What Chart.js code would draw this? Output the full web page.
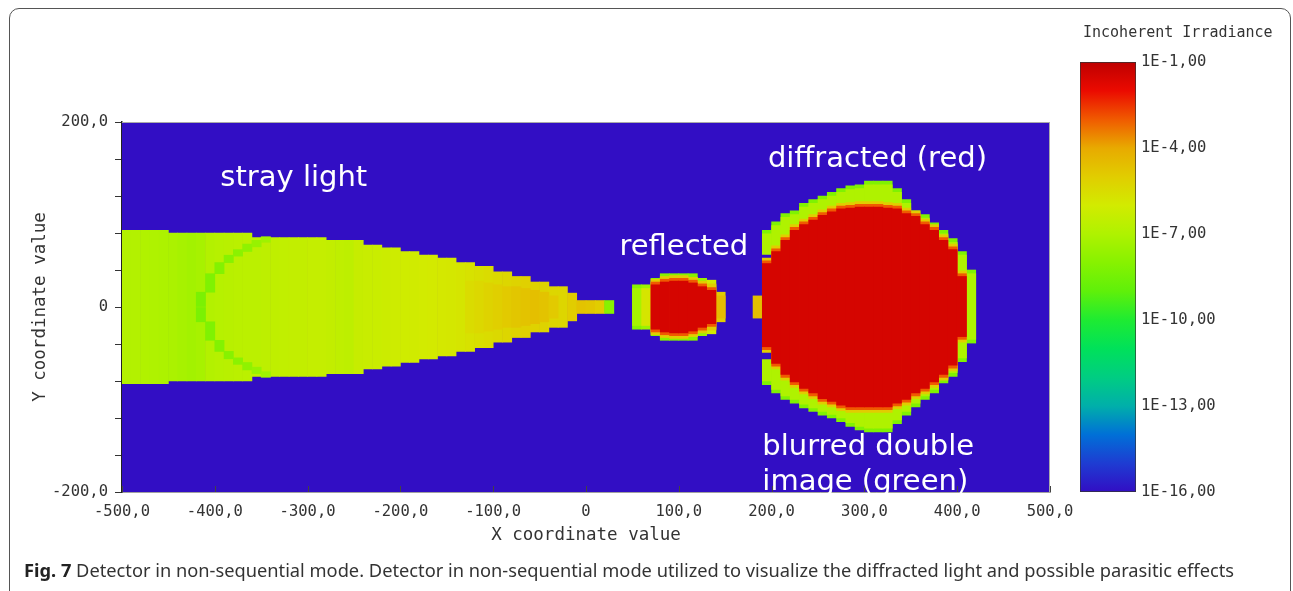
<!DOCTYPE html>
<html>
<head>
<meta charset="utf-8">
<script src="https://cdn.jsdelivr.net/npm/chart.js@4.4.1/dist/chart.umd.min.js"></script>
<style>
  html, body { margin: 0; padding: 0; background: #fff; }
  body { width: 1293px; height: 591px; position: relative; overflow: hidden; }
  #frame { position: absolute; left: 9px; top: 8px; width: 1280px; height: 640px;
           border: 1.5px solid #555; border-radius: 10px; }
  #main { position: absolute; left: 0; top: 0; }
  #bar { position: absolute; left: 1070px; top: 0; }
  #caption { position: absolute; left: 24px; top: 557px; font-family: "Noto Sans", "Open Sans", sans-serif;
             font-size: 18.25px; color: #333; white-space: nowrap; }
  #caption b { color: #222; }
</style>
</head>
<body>
<div id="frame"></div>
<canvas id="main" width="1293" height="591"></canvas>
<canvas id="bar" width="223" height="591"></canvas>
<div id="caption"><b>Fig. 7</b> Detector in non-sequential mode. Detector in non-sequential mode utilized to visualize the diffracted light and possible parasitic effects</div>
<script>
// --- stray light cone (columns of 10 units, half height in y units, log10 irradiance)
const strayX = [-495,-485,-475,-465,-455,-445,-435,-425,-415,-405,-395,-385,-375,-365,-355,-345,-335,-325,
  -315,-305,-295,-285,-275,-265,-255,-245,-235,-225,-215,-205,-195,-185,-175,-165,-155,-145,-135,-125,
  -115,-105,-95,-85,-75,-65,-55,-45,-35,-25,-15,-5,5,15,25];
const strayHalf = [83,83,83,83,83, 80,80,80,80,80,80,80,80,80, 75,75,75,75,75,75,75,75, 72,72,72,72,
  67,67,64,64,60,60,56,56,53,53,48,48,44,44,38,38,33,33,27,27,22,22,15,7,7,7,7];
const strayLog = [-6.9,-6.9,-6.95,-7.0,-7.05,-7.1,-7.2,-7.3,-7.2,-6.9,-6.8,-6.75,-6.7,-6.65,-6.65,-6.6,
  -6.55,-6.5,-6.45,-6.45,-6.4,-6.4,-6.45,-6.55,-6.6,-6.35,-6.3,-6.25,-6.2,-6.15,-6.1,-6.05,-6.0,-5.95,
  -5.9,-5.85,-5.8,-5.7,-5.6,-5.5,-5.4,-5.3,-5.2,-5.1,-5.15,-5.2,-5.3,-5.3,-5.0,-4.7,-4.8,-5.0,-8.0];

// warmer core of the cone towards the tip
const coreX = [-125,-115,-105,-95,-85,-75,-65,-55,-45,-35];
const coreHalf = [28,28,26,24,22,22,20,18,16,12];
const coreLog = [-5.5,-5.35,-5.2,-5.05,-4.9,-4.8,-4.7,-4.6,-4.7,-4.9];

// green ring inside the cone
const arcX = [-415,-405,-395,-385,-375,-365,-355,-345];
const arcIn = [0,16,36,48,55,60,65,70];
const arcOut = [16,36,48,56,62,68,72,76];
const arcLog = [-8.3,-8.2,-8.1,-8.0,-7.9,-7.8,-7.6,-7.4];

// reflected spot
const reflX = [55,65,75,85,95,105,115,125,135,145];
const reflHalf = [24,24,31,36,36,36,36,31,29,16];
const reflRedHalf = [null,null,24,27,28,28,26,22,18,null];
const reflEdgeLog = [-8.0,-7.5,-8.0,-8.0,-8.0,-8.0,-8.0,-7.5,-6.0,-5.0];
const reflLog = [-7.2,-5.8,-6.5,-6.8,-6.8,-6.8,-6.6,-6.0,-5.0,-4.5];

// blurred double image strip
const ghostX = [185];
const ghostHalf = [12];
const ghostLog = [-4.6];

// diffracted spot
const spotX = [195,205,215,225,235,245,255,265,275,285,295,305,315,325,335,345,355,365,375,385,395,405,415];
const spotTop = [83,92,101,104,112,116,120,124,128,131,132,136,136,136,128,116,104,100,91,83,74,60,40];
const spotBot = [-84,-93,-100,-104,-109,-113,-117,-120,-124,-129,-133,-135,-135,-135,-126,-117,-108,-100,-93,-82,-75,-59,-39];
const spotRedTop = [47,60,72,83,89,94,99,103,106,107,108,108,108,107,106,101,98,89,83,72,62,33,null];
const spotRedBot = [-43,-61,-73,-81,-88,-93,-99,-102,-106,-108,-108,-108,-108,-108,-104,-100,-93,-88,-81,-73,-63,-32,null];
const spotGapHalf = [56,null,null,null,null,null,null,null,null,null,null,null,null,null,null,null,null,null,null,null,null,null,null];

// axes and colour bar
const xTicks = [-500,-400,-300,-200,-100,0,100,200,300,400,500];
const yLabelled = [-200,0,200];
const barTicks = [-16,-13,-10,-7,-4,-1];

// colour map: log10 irradiance -> rgb
const cmapStops = [
  [-16, [50,14,196]], [-15, [30,60,210]], [-14, [0,112,215]], [-13, [0,175,170]],
  [-12, [0,205,130]], [-11, [0,225,90]], [-10, [30,235,50]], [-9, [95,240,10]],
  [-8, [135,242,0]], [-7, [175,242,0]], [-6, [210,235,0]], [-5, [225,205,0]],
  [-4, [232,170,0]], [-3, [240,90,0]], [-2, [235,10,0]], [-1, [190,0,0]]
];
function cmap(v) {
  if (v <= cmapStops[0][0]) return 'rgb(' + cmapStops[0][1].join(',') + ')';
  for (let i = 1; i < cmapStops.length; i++) {
    const [v1, c1] = cmapStops[i];
    const [v0, c0] = cmapStops[i - 1];
    if (v <= v1) {
      const t = (v - v0) / (v1 - v0);
      const c = c0.map((a, k) => Math.round(a + (c1[k] - a) * t));
      return 'rgb(' + c.join(',') + ')';
    }
  }
  return 'rgb(' + cmapStops[cmapStops.length - 1][1].join(',') + ')';
}

function fmt(v) {
  return v === 0 ? '0' : v.toFixed(1).replace('.', ',');
}

function layer(xs, lo, hi, logs, order) {
  const data = [], colors = [];
  xs.forEach((x, i) => {
    if (lo[i] == null || hi[i] == null) return;
    data.push({x: x, y: [lo[i], hi[i]]});
    colors.push(cmap(Array.isArray(logs) ? logs[i] : logs));
  });
  return {data: data, backgroundColor: colors, order: order, grouped: false,
          barPercentage: 1, categoryPercentage: 1, borderWidth: 0};
}
const neg = a => a.map(v => v == null ? null : -v);
const add = (a, d) => a.map(v => v == null ? null : v + d);

const datasets = [
  // cone
  layer(strayX, neg(strayHalf), strayHalf, strayLog, 20),
  layer(coreX, neg(coreHalf), coreHalf, coreLog, 19),
  layer(arcX, arcIn, arcOut, arcLog, 19),
  layer(arcX, neg(arcOut), neg(arcIn), arcLog, 19),
  // reflected
  layer(reflX, neg(reflHalf), reflHalf, reflEdgeLog, 20),
  layer(reflX, neg(add(reflHalf, -4)), add(reflHalf, -4), reflLog, 19),
  layer(reflX, neg(add(reflRedHalf, 6)), add(reflRedHalf, 6), -5, 17),
  layer(reflX, neg(add(reflRedHalf, 3)), add(reflRedHalf, 3), -3, 16),
  layer(reflX, neg(reflRedHalf), reflRedHalf, -1.5, 15),
  // double image
  layer(ghostX, neg(ghostHalf), ghostHalf, ghostLog, 20),
  // diffracted
  layer(spotX, spotBot, spotTop, -8.2, 20),
  layer(spotX, add(spotBot, 4), add(spotTop, -4), -7.0, 19),
  layer(spotX, neg(spotGapHalf), spotGapHalf, -16, 18),
  layer(spotX, add(spotRedBot, -6), add(spotRedTop, 6), -5, 17),
  layer(spotX, add(spotRedBot, -3), add(spotRedTop, 3), -3, 16),
  layer(spotX, spotRedBot, spotRedTop, -1.5, 15)
];

Chart.defaults.font.family = '"DejaVu Sans Mono", monospace';
Chart.defaults.color = '#333';

const plotDecor = {
  id: 'plotDecor',
  beforeDatasetsDraw(chart) {
    const {ctx, chartArea: a} = chart;
    ctx.save();
    ctx.fillStyle = cmap(-16);
    ctx.fillRect(a.left, a.top, a.right - a.left, a.bottom - a.top);
    ctx.restore();
  },
  afterDraw(chart) {
    const {ctx, chartArea: a} = chart;
    const xs = chart.scales.x;
    ctx.save();
    ctx.strokeStyle = '#aaa';
    ctx.lineWidth = 1;
    ctx.beginPath();
    ctx.moveTo(a.left, a.top + 0.5); ctx.lineTo(a.right, a.top + 0.5);
    ctx.moveTo(a.right - 0.5, a.top); ctx.lineTo(a.right - 0.5, a.bottom);
    ctx.stroke();
    ctx.strokeStyle = '#444';
    ctx.beginPath();
    xTicks.forEach(v => {
      const px = Math.round(xs.getPixelForValue(v)) + 0.5;
      ctx.moveTo(px, a.bottom); ctx.lineTo(px, a.bottom - 6);
    });
    ctx.stroke();
    // notes written on the detector picture
    const notes = [
      ['stray light', -394, 131], ['reflected', 36, 56], ['diffracted (red)', 196, 151],
      ['blurred double', 190, -160], ['image (green)', 190, -198]
    ];
    ctx.fillStyle = '#fff';
    ctx.font = '29px "DejaVu Sans"';
    ctx.textAlign = 'left';
    ctx.textBaseline = 'alphabetic';
    notes.forEach(([t, x, y]) => {
      ctx.fillText(t, xs.getPixelForValue(x), chart.scales.y.getPixelForValue(y));
    });
    ctx.restore();
  }
};

new Chart(document.getElementById('main'), {
  type: 'bar',
  data: {datasets: datasets},
  options: {
    responsive: false,
    animation: false,
    layout: {padding: {left: 20, right: 243, top: 122, bottom: 39}},
    plugins: {legend: {display: false}, tooltip: {enabled: false}},
    scales: {
      x: {
        type: 'linear', min: -500, max: 500, offset: false,
        afterFit: s => { s.height = 60; },
        afterBuildTicks: s => { s.ticks = xTicks.map(v => ({value: v})); },
        grid: {display: false, offset: false},
        border: {color: '#444', width: 1.5},
        ticks: {callback: v => fmt(v), padding: 3, maxRotation: 0, autoSkip: false, font: {size: 15.5}, color: '#333'},
        title: {display: true, text: 'X coordinate value', font: {size: 17.5}, color: '#333', padding: {top: 2, bottom: 6}}
      },
      y: {
        min: -200, max: 200,
        afterFit: s => { s.width = 102; },
        grid: {drawOnChartArea: false, drawTicks: true, tickLength: 7, color: '#333'},
        border: {color: '#222', width: 1.5},
        ticks: {stepSize: 40, padding: 7, font: {size: 15.5}, color: '#333',
                callback: v => yLabelled.includes(v) ? fmt(v) : ''},
        title: {display: true, text: 'Y coordinate value', font: {size: 17.5}, color: '#333', padding: {top: 10, bottom: 0}}
      }
    }
  },
  plugins: [plotDecor]
});

// colour bar
const barTitle = {
  id: 'barTitle',
  afterDraw(chart) {
    const ctx = chart.ctx;
    ctx.save();
    ctx.fillStyle = '#333';
    ctx.font = '15px "DejaVu Sans Mono"';
    ctx.textBaseline = 'middle';
    ctx.fillText('Incoherent Irradiance', 13, 33);
    ctx.restore();
  }
};

new Chart(document.getElementById('bar'), {
  type: 'bar',
  data: {
    labels: [''],
    datasets: [{
      data: [[barTicks[0], barTicks[barTicks.length - 1]]],
      barPercentage: 1, categoryPercentage: 1,
      borderWidth: 1, borderColor: '#333', borderSkipped: false,
      backgroundColor: ctx => {
        const chart = ctx.chart;
        if (!chart.chartArea) return null;
        const ys = chart.scales.y;
        const g = chart.ctx.createLinearGradient(0, ys.getPixelForValue(-16), 0, ys.getPixelForValue(-1));
        cmapStops.forEach(([v]) => g.addColorStop((v + 16) / 15, cmap(v)));
        return g;
      }
    }]
  },
  options: {
    responsive: false,
    animation: false,
    layout: {padding: {left: 10, right: 0, top: 62, bottom: 99}},
    plugins: {legend: {display: false}, tooltip: {enabled: false}},
    scales: {
      x: {display: false},
      y: {
        position: 'right', min: -16, max: -1,
        afterFit: s => { s.width = 157; },
        afterBuildTicks: s => { s.ticks = barTicks.map(v => ({value: v})); },
        grid: {display: false, drawTicks: false},
        border: {display: false},
        ticks: {padding: 5, font: {size: 15.5}, color: '#333', callback: v => '1E' + v + ',00'}
      }
    }
  },
  plugins: [barTitle]
});
</script>
</body>
</html>
